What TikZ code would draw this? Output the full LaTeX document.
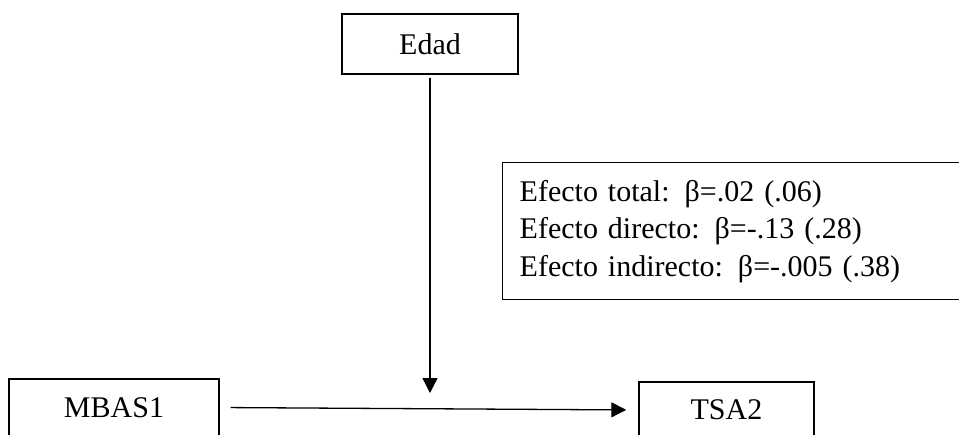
\documentclass[tikz,border=0pt]{standalone}
\usepackage{fontspec}
\setmainfont{Liberation Serif}
\usetikzlibrary{arrows.meta}
\begin{document}
\begin{tikzpicture}[x=1pt,y=-1pt,
  box/.style={draw,line width=1.4pt,inner sep=0pt,font=\fontsize{30}{37.5}\selectfont},
  arr/.style={line width=1.3pt,-{Triangle[length=15pt,width=15pt]}}]
\useasboundingbox (0,0) rectangle (959,434);
\clip (0,0) rectangle (959,434);
\node[box,minimum width=176pt,minimum height=60pt] (edad) at (430,44) {Edad};
\node[box,minimum width=210pt,minimum height=57pt] (mbas) at (114,407.5) {MBAS1};
\node[box,minimum width=175pt,minimum height=56pt] (tsa) at (726.5,410) {TSA2};
\node[box,anchor=north west,minimum height=137pt,text width=426pt,inner xsep=17pt,align=left] (efectos) at (502,162)
  {Efecto total: β=.02 (.06)\\Efecto directo: β=-.13 (.28)\\Efecto indirecto: β=-.005 (.38)};
\coordinate (tip) at (430,393);
\draw[arr,shorten <=3pt] (edad.south) -- (tip);
\draw[arr,shorten <=11pt,shorten >=12pt] (mbas.east) -- (tsa.west);
\end{tikzpicture}
\end{document}
